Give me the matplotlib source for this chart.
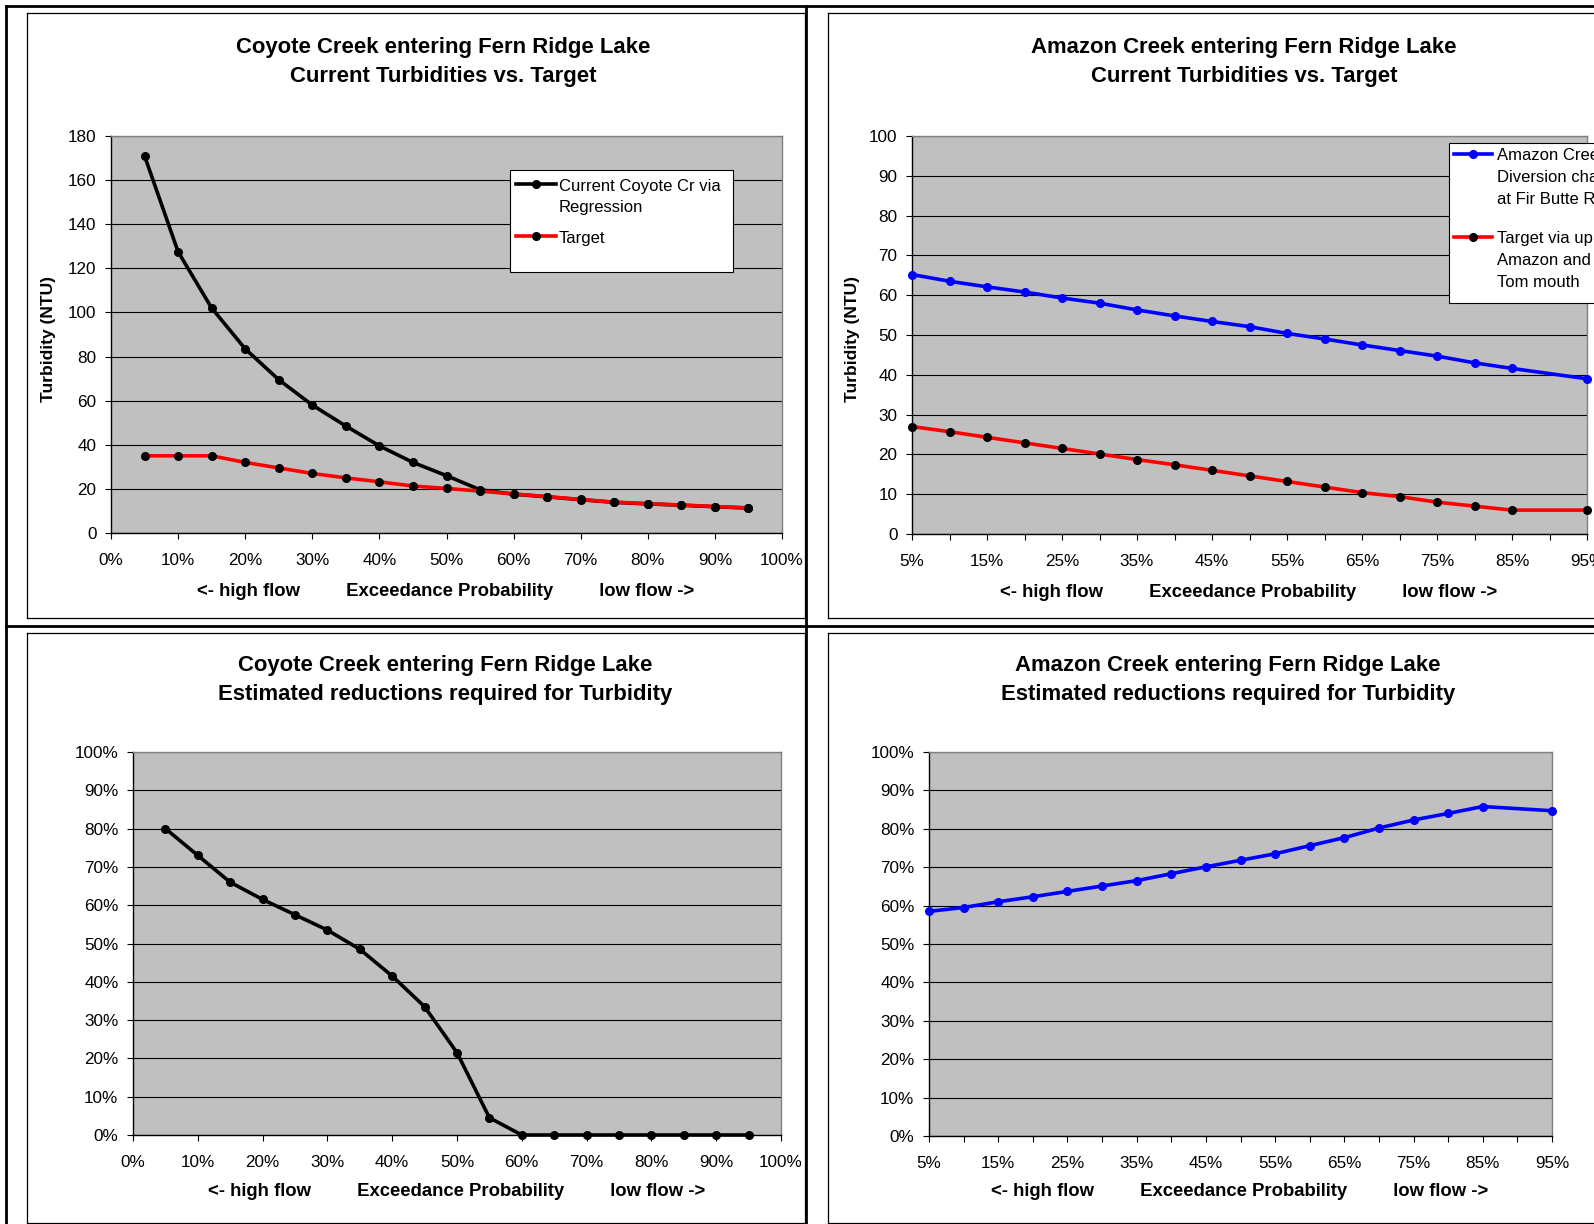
import numpy as np
import matplotlib
matplotlib.use('Agg')
import matplotlib.pyplot as plt
from matplotlib.lines import Line2D
from matplotlib.patches import Rectangle
from matplotlib.ticker import PercentFormatter

plt.rcParams['font.family'] = ['Liberation Sans', 'DejaVu Sans']

# Coyote Creek: exceedance probability 5%..95%
coyote_x = [0.05, 0.10, 0.15, 0.20, 0.25, 0.30, 0.35, 0.40, 0.45, 0.50,
            0.55, 0.60, 0.65, 0.70, 0.75, 0.80, 0.85, 0.90, 0.95]
coyote_current = [171, 127.5, 102, 83.5, 69.5, 58, 48.5, 39.5, 32, 26,
                  19.6, 17.6, 16.4, 15.1, 13.9, 13.2, 12.6, 11.9, 11.3]
coyote_target = [35, 35, 35, 32, 29.5, 27, 25, 23.2, 21.3, 20.2,
                 19.0, 17.7, 16.5, 15.2, 14.0, 13.3, 12.7, 12.0, 11.4]
coyote_reduction = [0.80, 0.73, 0.66, 0.615, 0.575, 0.535, 0.485, 0.415, 0.335, 0.215,
                    0.045, 0, 0, 0, 0, 0, 0, 0, 0]

# Amazon Creek: categories 5%..95% (90% missing)
amazon_cats = ['5%', '10%', '15%', '20%', '25%', '30%', '35%', '40%', '45%', '50%',
               '55%', '60%', '65%', '70%', '75%', '80%', '85%', '90%', '95%']
amazon_current = [65.2, 63.5, 62.1, 60.8, 59.3, 58.0, 56.3, 54.8, 53.4, 52.1,
                  50.4, 49.0, 47.5, 46.1, 44.7, 43.0, 41.6, np.nan, 39.0]
amazon_target = [27.0, 25.7, 24.3, 22.9, 21.5, 20.1, 18.7, 17.4, 16.0, 14.6,
                 13.2, 11.8, 10.4, 9.4, 8.0, 7.0, 6.0, np.nan, 6.0]
amazon_reduction = [0.585, 0.595, 0.61, 0.623, 0.637, 0.651, 0.665, 0.683, 0.701, 0.718,
                    0.735, 0.756, 0.777, 0.802, 0.823, 0.84, 0.858, np.nan, 0.847]

W, H = 1594, 1224
fig = plt.figure(figsize=(W / 100, H / 100), dpi=100)


def fx(x):
    return x / W


def fy(y):
    return 1 - y / H


def add_axes(l, t, r, b):
    ax = fig.add_axes([fx(l), fy(b), (r - l) / W, (b - t) / H])
    ax.set_facecolor('#c0c0c0')
    ax.spines['left'].set_color('black')
    ax.spines['bottom'].set_color('black')
    ax.spines['top'].set_color('#808080')
    ax.spines['right'].set_color('#808080')
    for s in ax.spines.values():
        s.set_linewidth(1.0)
    ax.yaxis.grid(True, color='black', linewidth=0.8)
    ax.set_axisbelow(True)
    ax.tick_params(axis='y', length=4, pad=6.5, labelsize=12.3, width=0.8)
    ax.tick_params(axis='x', length=4.3, pad=10, labelsize=12.3, width=0.8)
    return ax


def fig_line(x0, y0, x1, y1, lw):
    fig.add_artist(Line2D([fx(x0), fx(x1)], [fy(y0), fy(y1)], color='black',
                          linewidth=lw, transform=fig.transFigure))


def titles(cx, cy, text):
    fig.text(fx(cx), fy(cy), text, ha='center', va='center', fontsize=15.9,
             fontweight='bold', linespacing=1.5)


def xlab(cx, cy):
    fig.text(fx(cx), fy(cy), '<- high flow         Exceedance Probability         low flow ->',
             ha='center', va='center', fontsize=13.3, fontweight='bold')


def ylab(cx, cy):
    fig.text(fx(cx), fy(cy), 'Turbidity (NTU)', ha='center', va='center', rotation=90,
             fontsize=12.5, fontweight='bold')


def legend_box(l, t, r, b, sx0, sx1, tx, entries):
    fig.add_artist(Rectangle((fx(l), fy(b)), (r - l) / W, (b - t) / H,
                             transform=fig.transFigure, facecolor='white',
                             edgecolor='black', linewidth=0.8, zorder=5))
    for line, y in entries:
        fig.add_artist(Line2D([fx(sx0), fx(sx1)], [fy(y), fy(y)], color=line.get_color(),
                              linewidth=line.get_linewidth(), transform=fig.transFigure,
                              zorder=6))
        fig.add_artist(Line2D([fx((sx0 + sx1) / 2)], [fy(y)], marker='o',
                              ms=line.get_markersize(), mfc=line.get_markerfacecolor(),
                              mec=line.get_markeredgecolor(), linestyle='none',
                              transform=fig.transFigure, zorder=7))
        fig.text(fx(tx), fy(y - 5.5), line.get_label(), ha='left', va='top',
                 fontsize=12, linespacing=1.55, zorder=8)


# outer grid and panel frames
fig_line(6, 6, W + 5, 6, 2)
fig_line(6, 6, 6, H + 5, 2)
fig_line(806, 6, 806, H + 5, 2)
fig_line(6, 626, W + 5, 626, 2)
for (l, t, r, b) in [(27, 13, 805, 618), (828, 13, W + 10, 618),
                     (27, 633, 805, 1223), (828, 633, W + 10, 1223)]:
    fig_line(l, t, r, t, 0.9)
    fig_line(l, b, r, b, 0.9)
    fig_line(l, t, l, b, 0.9)
    if r < W:
        fig_line(r, t, r, b, 0.9)

lw = 2.6
ms = 5.5

# --- top-left: Coyote turbidity
ax1 = add_axes(111, 136, 782, 533)
l_cur, = ax1.plot(coyote_x, coyote_current, color='black', lw=lw, marker='o', ms=ms,
                  mfc='black', mec='black', label='Current Coyote Cr via\nRegression', zorder=3)
l_tgt, = ax1.plot(coyote_x, coyote_target, color='red', lw=lw, marker='o', ms=ms,
                  mfc='black', mec='black', label='Target', zorder=4)
ax1.set_xlim(0, 1)
ax1.set_ylim(0, 180)
ax1.set_xticks(np.arange(0, 1.01, 0.1))
ax1.set_yticks(np.arange(0, 181, 20))
ax1.xaxis.set_major_formatter(PercentFormatter(1.0, decimals=0))
legend_box(510, 170, 733, 272, 516, 556, 559, [(l_cur, 184), (l_tgt, 236)])
titles(443, 62, 'Coyote Creek entering Fern Ridge Lake\nCurrent Turbidities vs. Target')
ylab(49, 339)
xlab(446, 591)

# --- top-right: Amazon turbidity
pos = np.arange(len(amazon_cats))
cur = np.array(amazon_current)
tgt = np.array(amazon_target)
ax2 = add_axes(912, 136, 1587, 534)
m = ~np.isnan(cur)
a_cur, = ax2.plot(pos[m], cur[m], color='blue', lw=lw, marker='o', ms=ms,
                  mfc='blue', mec='blue', label='Amazon Creek at\nDiversion channel\nat Fir Butte Rd',
                  zorder=3, clip_on=False)
m = ~np.isnan(tgt)
a_tgt, = ax2.plot(pos[m], tgt[m], color='red', lw=lw, marker='o', ms=ms,
                  mfc='black', mec='black', label='Target via upper\nAmazon and\nTom mouth',
                  zorder=4, clip_on=False)
ax2.set_xlim(0, len(amazon_cats) - 1)
ax2.set_ylim(0, 100)
ax2.set_yticks(np.arange(0, 101, 10))
ax2.set_xticks(pos)
ax2.set_xticklabels([c if i % 2 == 0 else '' for i, c in enumerate(amazon_cats)])
legend_box(1449, 143, W + 20, 303, 1454, 1492, 1497, [(a_cur, 154), (a_tgt, 237)])
titles(1244, 62, 'Amazon Creek entering Fern Ridge Lake\nCurrent Turbidities vs. Target')
ylab(852, 339)
xlab(1249, 592)

# --- bottom-left: Coyote reductions
ax3 = add_axes(133, 752, 781, 1135)
ax3.plot(coyote_x, coyote_reduction, color='black', lw=lw, marker='o', ms=ms,
         mfc='black', mec='black', zorder=3, clip_on=False)
ax3.set_xlim(0, 1)
ax3.set_ylim(0, 1)
ax3.set_xticks(np.arange(0, 1.01, 0.1))
ax3.set_yticks(np.arange(0, 1.01, 0.1))
ax3.xaxis.set_major_formatter(PercentFormatter(1.0, decimals=0))
ax3.yaxis.set_major_formatter(PercentFormatter(1.0, decimals=0))
titles(445, 680, 'Coyote Creek entering Fern Ridge Lake\nEstimated reductions required for Turbidity')
xlab(457, 1191)

# --- bottom-right: Amazon reductions
red = np.array(amazon_reduction)
ax4 = add_axes(929, 752, 1552, 1136)
m = ~np.isnan(red)
ax4.plot(pos[m], red[m], color='blue', lw=lw, marker='o', ms=ms,
         mfc='blue', mec='blue', zorder=3, clip_on=False)
ax4.set_xlim(0, len(amazon_cats) - 1)
ax4.set_ylim(0, 1)
ax4.set_yticks(np.arange(0, 1.01, 0.1))
ax4.yaxis.set_major_formatter(PercentFormatter(1.0, decimals=0))
ax4.set_xticks(pos)
ax4.set_xticklabels([c if i % 2 == 0 else '' for i, c in enumerate(amazon_cats)])
titles(1228, 680, 'Amazon Creek entering Fern Ridge Lake\nEstimated reductions required for Turbidity')
xlab(1240, 1192)

fig.savefig('out.png', dpi=100, facecolor='white')
